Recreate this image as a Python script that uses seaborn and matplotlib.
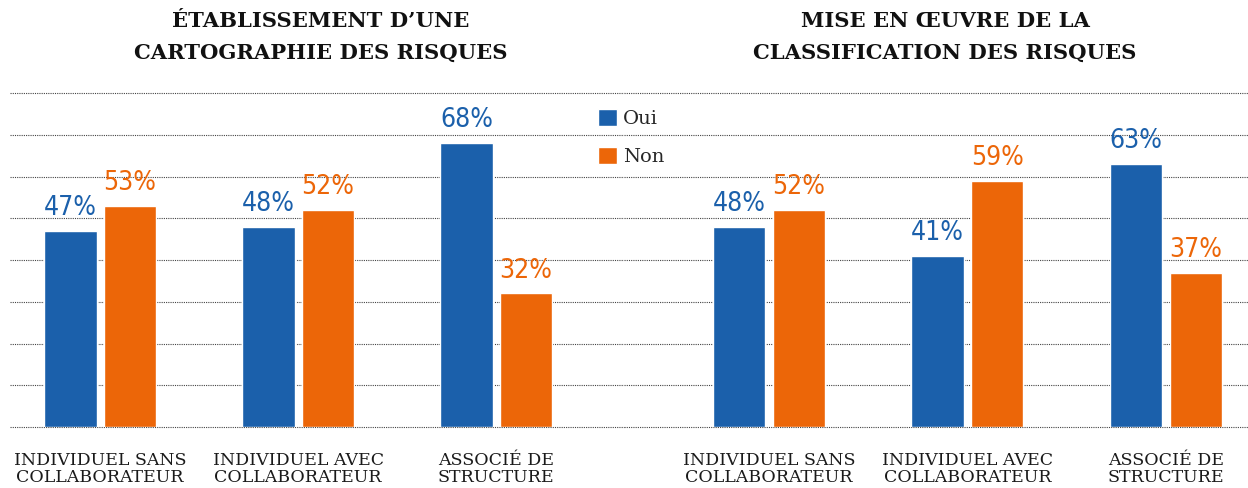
import pandas as pd
import matplotlib.pyplot as plt
import seaborn as sns
from matplotlib.patches import Patch
from matplotlib import font_manager

# Data
categories = ["INDIVIDUEL SANS\nCOLLABORATEUR", "INDIVIDUEL AVEC\nCOLLABORATEUR", "ASSOCIÉ DE\nSTRUCTURE"]
responses = ["Oui", "Non"]
titles = ["ÉTABLISSEMENT D’UNE\nCARTOGRAPHIE DES RISQUES",
          "MISE EN ŒUVRE DE LA\nCLASSIFICATION DES RISQUES"]
cartographie_oui = [47, 48, 68]
cartographie_non = [53, 52, 32]
classification_oui = [48, 41, 63]
classification_non = [52, 59, 37]

colors = {"Oui": "#1B60AB", "Non": "#EC6608"}

def make_df(oui, non):
    rows = []
    for cat, o, n in zip(categories, oui, non):
        rows.append({"categorie": cat, "reponse": "Oui", "valeur": o})
        rows.append({"categorie": cat, "reponse": "Non", "valeur": n})
    return pd.DataFrame(rows)

panels = [make_df(cartographie_oui, cartographie_non),
          make_df(classification_oui, classification_non)]

installed = {f.name for f in font_manager.fontManager.ttflist}
narrow = "Liberation Sans Narrow" if "Liberation Sans Narrow" in installed else "DejaVu Sans"

sns.set_theme(style="white")
plt.rcParams['font.family'] = ['DejaVu Serif']

fig = plt.figure(figsize=(12.48, 4.88), dpi=100)
W, H = 1248, 488
bottom = (H - 427) / H
height = (427 - 93) / H
ax_left = fig.add_axes([10 / W, bottom, 614 / W, height])
ax_right = fig.add_axes([624 / W, bottom, 624 / W, height])
axes = [ax_left, ax_right]
xlims = [(-0.455, 2.646), (-0.730, 2.413)]
title_x = [321, 945]

for ax, df, xl, tx, title in zip(axes, panels, xlims, title_x, titles):
    sns.barplot(data=df, x="categorie", y="valeur", hue="reponse",
                hue_order=responses, palette=colors, width=0.6, gap=0.12,
                saturation=1, legend=False, ax=ax)
    ax.set_ylim(0, 80)
    ax.set_xlim(*xl)
    ax.set_yticks(range(0, 81, 10))
    ax.set_yticklabels([])
    ax.yaxis.grid(True, linestyle=(0, (1, 1)), color="#444444", linewidth=0.8)
    for gl in ax.get_ygridlines():
        gl.set_clip_on(False)
    ax.set_axisbelow(True)
    for s in ax.spines.values():
        s.set_visible(False)
    ax.set_xlabel("")
    ax.set_ylabel("")
    ax.tick_params(axis="x", length=0, pad=18)
    ax.tick_params(axis="y", length=0)
    for lbl in ax.get_xticklabels():
        lbl.set_fontsize(12.5)
        lbl.set_color("#1a1a1a")
        lbl.set_linespacing(1.0)
        lbl.set_verticalalignment("top")
    for cont, resp in zip(ax.containers, responses):
        ax.bar_label(cont, labels=[f"{int(v)}%" for v in cont.datavalues],
                     padding=7, color=colors[resp], fontsize=19,
                     family=[narrow], fontstretch="condensed")
    fig.text(tx / W, 1 - 11 / H, title, ha="center", va="top",
             fontsize=15.2, fontweight="bold", color="#111111", linespacing=1.72)

handles = [Patch(facecolor=colors[r], label=r) for r in responses]
fig.legend(handles=handles, loc="upper left", bbox_to_anchor=(590 / W, 1 - 101 / H),
           frameon=False, handlelength=1.0, handleheight=1.0, handletextpad=0.3,
           labelspacing=0.95, fontsize=14, borderaxespad=0)

fig.savefig("out.png", dpi=100)
